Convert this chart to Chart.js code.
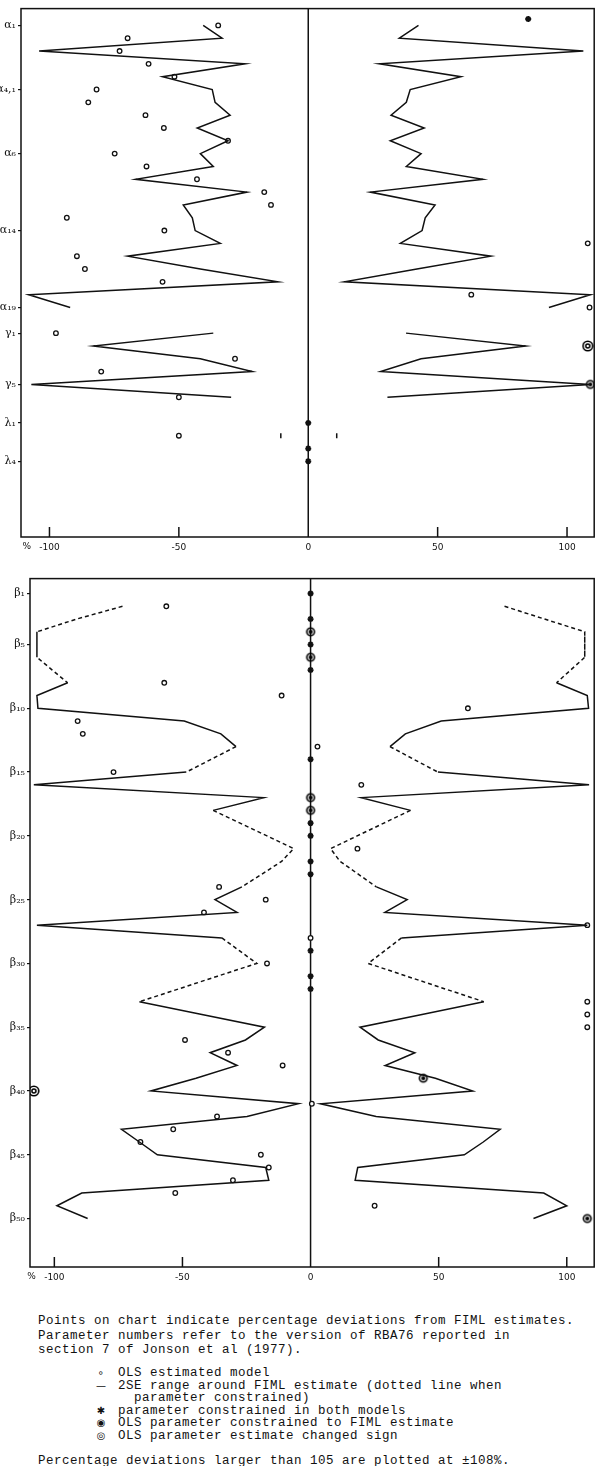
<!DOCTYPE html>
<html>
<head>
<meta charset="utf-8">
<script src="https://cdn.jsdelivr.net/npm/chart.js@4"></script>
<style>
  body { margin: 0; background: #fff; width: 600px; height: 1466px; position: relative; overflow: hidden; }
  canvas { position: absolute; left: 0; }
  #topChart { top: 0; }
  #botChart { top: 570px; }
  .txt { position: absolute; font-family: 'Liberation Mono', 'DejaVu Sans Mono', monospace; font-size: 12.5px;
         letter-spacing: 0.5px; color: #111; white-space: pre; }
  .sym { position: absolute; font-family: 'DejaVu Sans', sans-serif; font-size: 10px; color: #111; width: 14px; text-align: center; }
</style>
</head>
<body>
<canvas id="topChart" width="600" height="565"></canvas>
<canvas id="botChart" width="600" height="725"></canvas>

<div class="txt" style="left:38px; top:1314px; line-height:14.5px;">Points on chart indicate percentage deviations from FIML estimates.
Parameter numbers refer to the version of RBA76 reported in
section 7 of Jonson et al (1977).</div>

<div class="sym" style="left:94px; top:1367px;">∘</div>
<div class="sym" style="left:94px; top:1380px;">—</div>
<div class="sym" style="left:94px; top:1405px;">✱</div>
<div class="sym" style="left:94px; top:1417px;">◉</div>
<div class="sym" style="left:94px; top:1430px;">◎</div>
<div class="txt" style="left:118px; top:1367px; line-height:12.6px;">OLS estimated model
2SE range around FIML estimate (dotted line when
  parameter constrained)
parameter constrained in both models
OLS parameter constrained to FIML estimate
OLS parameter estimate changed sign</div>

<div class="txt" style="left:38px; top:1454px; line-height:14px;">Percentage deviations larger than 105 are plotted at ±108%.</div>

<script>
// x axis (percentage deviation from FIML)
const xTickValues = [-100, -50, 0, 50, 100];

// ---- top panel: alpha, gamma, lambda parameters (row number down the chart)
const topTickRows = [1, 6, 11, 17, 23, 25, 29, 32, 35];
const topTickLabels = ['α₁', 'α₄,₁', 'α₆', 'α₁₄', 'α₁₉', 'γ₁', 'γ₅', 'λ₁', 'λ₄'];

// 2SE range, rows 1..30 (null = break in the line)
const topLow = [-40.6, -33.3, -104, -24.4, -56.3, -37.1, -36, -30.2, -42.9, -31,
  -41.7, -36.7, -66.7, -23.7, -48.3, -44.8, -43.7, -34, -69.8, -41.7,
  -11.7, -108, -92, null, -36.7, -83, -41.7, -21.7, -107, -29.8];
const topHigh = [42.6, 35.2, 106.3, 27.5, 59, 39.4, 37.9, 32, 44.8, 31.7,
  43.6, 37.9, 67.5, 24, 49, 45.2, 44, 35.6, 70.6, 42,
  14, 109, 93, null, 37.8, 84, 43.6, 28, 109, 30.6];

// short 2SE marks (lambda)
const topMarkRows = [33];
const topMarkLow = [-10.6];
const topMarkHigh = [11];

// OLS estimates
const topOlsRows = [1, 2, 3, 4, 5, 6, 7, 8, 9, 10, 11, 12, 13, 14, 15, 16, 17, 18, 19, 20, 21, 22, 23, 25, 27, 28, 30, 33];
const topOlsValues = [-34.8, -69.8, -72.9, -61.7, -51.7, -81.8, -85, -62.9, -55.8, -31, -74.8, -62.5, -43, -17,
  -14.4, -93.3, -55.6, 108, -89.4, -86.3, -56.3, 63, 108.7, -97.5, -28.3, -80, -50, -50];

// constrained in both models
const topBothRows = [0.5, 32, 34, 35];
const topBothValues = [85, 0, 0, 0];
// OLS constrained to FIML
const topFimlRows = [29];
const topFimlValues = [109];
// OLS changed sign
const topSignRows = [26];
const topSignValues = [108];

// ---- bottom panel: beta parameters
const botTickRows = [1, 5, 10, 15, 20, 25, 30, 35, 40, 45, 50];
const botTickLabels = ['β₁', 'β₅', 'β₁₀', 'β₁₅', 'β₂₀', 'β₂₅', 'β₃₀', 'β₃₅', 'β₄₀', 'β₄₅', 'β₅₀'];

// 2SE range, beta 1..50
const botLow = [null, -73.4, -91.3, -106.8, -106.8, -106.8, -100.8, -94.8, -106.8, -106.4,
  -49.3, -35, -29.1, -38.8, -48.5, -108, -18.3, -38, -27.5, -17,
  -6.6, -11.3, -19, -26.8, -37.3, -28.7, -106.8, -34.6, -27.8, -21,
  -36.3, -51.5, -66.8, -42.4, -18, -25.4, -39.2, -28.7, -44.7, -62.3,
  -4.7, -24.8, -73.8, -66.8, -59.8, -17.5, -16.3, -89.3, -99, -87];
const botHigh = [null, 75.7, 91.3, 107, 107, 107, 101.5, 96, 108, 108.5,
  51, 37, 31, 40.3, 49.7, 108.7, 19.8, 39, 28.6, 18.2,
  7.8, 11.5, 18.6, 25.7, 37.7, 29, 108, 35.5, 29, 22.5,
  37.5, 52.5, 67.6, 43.5, 19.3, 26.4, 40.7, 29.1, 48.7, 63.3,
  3.9, 25.6, 74, 67.4, 60, 18.4, 17.4, 91, 100, 87];
// stretches drawn dotted (parameter constrained), from beta a to beta b
const botDotted = [[2, 8], [13, 15], [18, 24], [28, 33]];

const botOlsRows = [2, 8, 9, 10, 11, 12, 13, 15, 16, 21, 24, 25, 26, 27, 28, 30, 33, 34, 35, 36, 37, 38, 41, 42, 43, 44, 45, 46, 47, 48, 49];
const botOlsValues = [-56.3, -57.1, -11.3, 61.4, -90.9, -88.9, 2.7, -76.9, 19.8, 18.3, -35.7, -17.5, -41.6, 108, 0, -17,
  108, 108, 108, -49, -32.2, -10.9, 0.5, -36.5, -53.6, -66.4, -19.4, -16.3, -30.3, -52.8, 25];
const botBothRows = [1, 3, 5, 7, 14, 19, 20, 22, 23, 29, 31, 32];
const botBothValues = [0, 0, 0, 0, 0, 0, 0, 0, 0, 0, 0, 0];
const botFimlRows = [4, 6, 17, 18, 39, 50];
const botFimlValues = [0, 0, 0, 0, 44, 108];
const botSignRows = [40];
const botSignValues = [-108];

const INK = '#111';

// small drawn symbols for the special markers
function makeSymbol(kind) {
  const c = document.createElement('canvas');
  c.width = 12; c.height = 12;
  const g = c.getContext('2d');
  g.strokeStyle = '#000'; g.fillStyle = '#000'; g.lineWidth = 1.6;
  if (kind === 'fiml') {
    g.beginPath(); g.arc(6, 6, 3.8, 0, Math.PI * 2); g.stroke();
    g.beginPath(); g.arc(6, 6, 2, 0, Math.PI * 2); g.fill();
  } else {
    g.beginPath(); g.arc(6, 6, 4.8, 0, Math.PI * 2); g.stroke();
    g.beginPath(); g.arc(6, 6, 2, 0, Math.PI * 2); g.stroke();
  }
  return c;
}
const fimlSymbol = makeSymbol('fiml');
const signSymbol = makeSymbol('sign');

const pts = (rows, vals) => rows.map((r, i) => ({ x: vals[i], y: r }));
const rangePts = vals => vals.map((v, i) => ({ x: v, y: i + 1 }));

// frame, zero line, inward ticks and the "%" label
const framePlugin = {
  id: 'frame',
  beforeDatasetsDraw(chart) {
    const { ctx, chartArea: a, scales: { x } } = chart;
    ctx.save();
    ctx.strokeStyle = INK;
    ctx.lineWidth = 1.5;
    ctx.strokeRect(a.left, a.top, a.right - a.left, a.bottom - a.top);
    const x0 = x.getPixelForValue(0);
    ctx.beginPath(); ctx.moveTo(x0, a.top); ctx.lineTo(x0, a.bottom); ctx.stroke();
    xTickValues.forEach(v => {
      if (v === 0) return;
      const px = x.getPixelForValue(v);
      ctx.beginPath(); ctx.moveTo(px, a.bottom); ctx.lineTo(px, a.bottom - 10); ctx.stroke();
    });
    ctx.fillStyle = INK;
    ctx.font = '9px "DejaVu Sans"';
    ctx.textBaseline = 'top';
    ctx.fillText('%', x.getPixelForValue(-100) - 27, a.bottom + 5);
    ctx.restore();
  }
};

function makePanel(id, cfg) {
  const lineStyle = { showLine: true, pointRadius: 0, borderColor: INK, borderWidth: 1.5, spanGaps: false };
  const dotted = ctx => {
    const b = ctx.p0DataIndex + 1;
    return (cfg.dotted || []).some(([s, e]) => b >= s && b < e) ? [4, 3] : undefined;
  };
  const datasets = [
    { ...lineStyle, data: rangePts(cfg.low), segment: { borderDash: dotted } },
    { ...lineStyle, data: rangePts(cfg.high), segment: { borderDash: dotted } },
    { data: pts(cfg.olsRows, cfg.olsValues), pointStyle: 'circle', pointRadius: 2.3, borderWidth: 1.3, borderColor: INK, backgroundColor: '#fff' },
    { data: pts(cfg.bothRows, cfg.bothValues), pointStyle: 'star', pointRadius: 3, borderWidth: 1.8, borderColor: INK, backgroundColor: INK },
    { data: pts(cfg.fimlRows, cfg.fimlValues), pointStyle: fimlSymbol },
    { data: pts(cfg.signRows, cfg.signValues), pointStyle: signSymbol }
  ];
  if (cfg.markRows) {
    datasets.push({ data: pts(cfg.markRows, cfg.markLow).concat(pts(cfg.markRows, cfg.markHigh)),
      pointStyle: 'line', rotation: 90, pointRadius: 2.5, borderWidth: 1.5, borderColor: INK });
  }

  return new Chart(document.getElementById(id).getContext('2d'), {
    type: 'scatter',
    data: { datasets },
    options: {
      responsive: false,
      animation: false,
      devicePixelRatio: 1,
      layout: { padding: { left: 0, right: cfg.padRight, top: 3, bottom: 0 } },
      plugins: { legend: { display: false }, tooltip: { enabled: false } },
      scales: {
        x: {
          type: 'linear', min: cfg.xMin, max: cfg.xMax,
          afterBuildTicks: s => { s.ticks = xTickValues.map(v => ({ value: v })); },
          afterFit: s => { s.height = 28; },
          ticks: { callback: v => String(v), font: { family: 'DejaVu Sans', size: 9 }, color: INK, padding: 5, maxRotation: 0, autoSkip: false },
          grid: { display: false, drawTicks: false },
          border: { display: false }
        },
        y: {
          type: 'linear', reverse: true, min: cfg.yMin, max: cfg.yMax,
          afterBuildTicks: s => { s.ticks = cfg.tickRows.map(v => ({ value: v })); },
          afterFit: s => { s.width = cfg.yWidth; },
          ticks: { callback: v => cfg.tickLabels[cfg.tickRows.indexOf(v)], font: { family: 'DejaVu Serif', size: 11 }, color: INK, padding: 2, autoSkip: false },
          grid: { display: true, drawOnChartArea: false, tickLength: 3, color: INK, lineWidth: 1.2 },
          border: { display: false }
        }
      }
    },
    plugins: [framePlugin]
  });
}

makePanel('topChart', {
  low: topLow, high: topHigh,
  olsRows: topOlsRows, olsValues: topOlsValues,
  bothRows: topBothRows, bothValues: topBothValues,
  fimlRows: topFimlRows, fimlValues: topFimlValues,
  signRows: topSignRows, signValues: topSignValues,
  markRows: topMarkRows, markLow: topMarkLow, markHigh: topMarkHigh,
  tickRows: topTickRows, tickLabels: topTickLabels,
  xMin: -111, xMax: 110.5, yMin: -0.31, yMax: 40.9, yWidth: 21, padRight: 4
});

makePanel('botChart', {
  low: botLow, high: botHigh, dotted: botDotted,
  olsRows: botOlsRows, olsValues: botOlsValues,
  bothRows: botBothRows, bothValues: botBothValues,
  fimlRows: botFimlRows, fimlValues: botFimlValues,
  signRows: botSignRows, signValues: botSignValues,
  tickRows: botTickRows, tickLabels: botTickLabels,
  xMin: -109.5, xMax: 110.7, yMin: -0.17, yMax: 53.8, yWidth: 30, padRight: 3
});
</script>
</body>
</html>
